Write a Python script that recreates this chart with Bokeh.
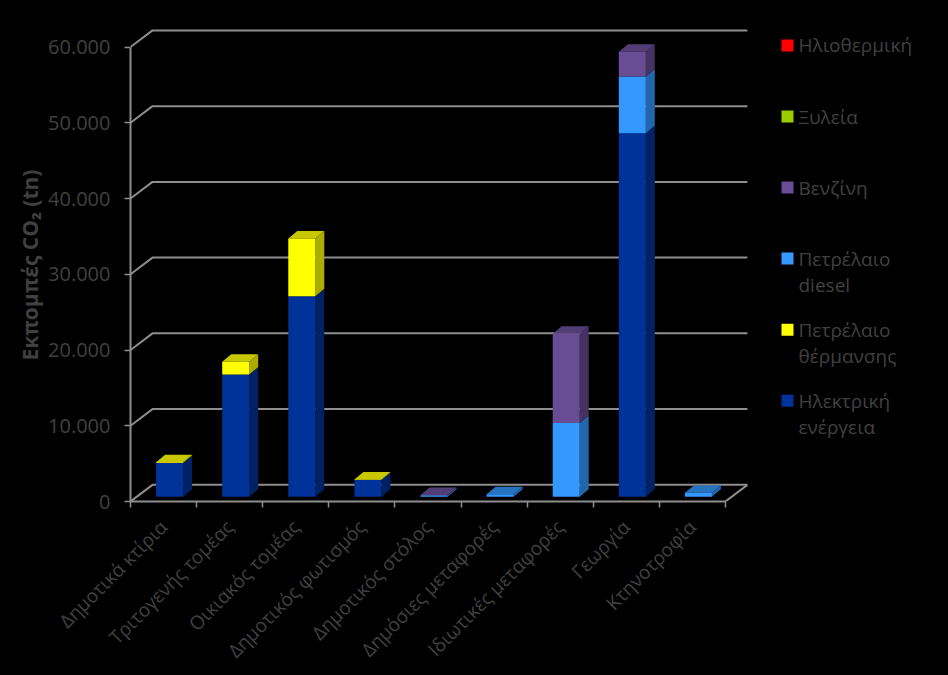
import math
from bokeh.plotting import figure
from bokeh.embed import file_html
from bokeh.resources import INLINE
from bokeh.core.properties import value
from bokeh.models import Range1d, FixedTicker, ColumnDataSource

categories = ["Δημοτικά κτίρια", "Τριτογενής τομέας", "Οικιακός τομέας", "Δημοτικός φωτισμός",
              "Δημοτικός στόλος", "Δημόσιες μεταφορές", "Ιδιωτικές μεταφορές", "Γεωργία", "Κτηνοτροφία"]
electricity = [4450, 16160, 26480, 2230, 0, 0, 0, 48000, 0]
heating_oil = [120, 1670, 7640, 50, 0, 0, 0, 0, 0]
diesel = [0, 0, 0, 0, 200, 350, 9750, 7500, 520]
petrol = [0, 0, 0, 0, 30, 0, 11790, 3260, 0]
wood = [0, 0, 0, 0, 0, 0, 0, 0, 0]
solar = [0, 0, 0, 0, 0, 0, 0, 0, 0]
y_ticks = [0, 10000, 20000, 30000, 40000, 50000, 60000]
y_tick_labels = ["0", "10.000", "20.000", "30.000", "40.000", "50.000", "60.000"]

series = [
    ("Ηλεκτρική\nενέργεια", electricity, "#003399", "#002164", "#002A80"),
    ("Πετρέλαιο\nθέρμανσης", heating_oil, "#FFFF00", "#ABAB00", "#C8C800"),
    ("Πετρέλαιο\ndiesel", diesel, "#3399FF", "#2266AB", "#2673BF"),
    ("Βενζίνη", petrol, "#684C94", "#453263", "#533D76"),
    ("Ξυλεία", wood, "#99CC00", "#668800", "#7AA300"),
    ("Ηλιοθερμική", solar, "#FF0000", "#AA0000", "#CC0000"),
]

PX_X = 66.1      # pixels per category
PX_Y = 75.9 / 10000  # pixels per unit of CO2
FRAME_L, FRAME_B, FRAME_T = 130, 502, 28
WALL_DX, WALL_DY = 22 / PX_X, 16.7 / PX_Y
BAR_DX, BAR_DY = 9 / PX_X, 7.5 / PX_Y
BAR_W = 27 / PX_X
BAR_SHIFT_X, BAR_BASE = 6.05 / PX_X, 4.7 / PX_Y
TEXT = "#404040"
LINE = "#8E8E8E"
FONT = "Open Sans"


def page_x(px):
    return (px - FRAME_L) / PX_X


def page_y(py):
    return (FRAME_B - py) / PX_Y


p = figure(width=948, height=675, output_backend="svg", toolbar_location=None,
           x_range=Range1d(0, (948 - FRAME_L) / PX_X), y_range=Range1d(0, (FRAME_B - FRAME_T) / PX_Y),
           min_border_left=FRAME_L, min_border_right=0, min_border_top=FRAME_T,
           min_border_bottom=675 - FRAME_B,
           background_fill_color="black", border_fill_color="black", outline_line_color=None)
p.grid.visible = False

# 3D wall lines
n = len(categories)
xs, ys = [], []
for t in y_ticks:
    xs.append([0, WALL_DX, n + WALL_DX])
    ys.append([t, t + WALL_DY, t + WALL_DY])
xs.append([n + WALL_DX, n])
ys.append([WALL_DY, 0])
p.multi_line(xs, ys, line_color=LINE, line_width=2)

# Bars
totals = [0.0] * n
for k, (name, vals, front, side, top) in enumerate(series):
    lefts, rights, bottoms, tops = [], [], [], []
    sx, sy, tx, ty = [], [], [], []
    for i, v in enumerate(vals):
        x0 = i + 0.5 + BAR_SHIFT_X - BAR_W / 2
        x1 = x0 + BAR_W
        b = BAR_BASE + totals[i]
        t = b + v
        lefts.append(x0); rights.append(x1); bottoms.append(b); tops.append(t)
        if v > 0:
            sx.append([x1, x1 + BAR_DX, x1 + BAR_DX, x1])
            sy.append([b, b + BAR_DY, t + BAR_DY, t])
            if sum(s[1][i] for s in series[k + 1:]) == 0:
                tx.append([x0, x1, x1 + BAR_DX, x0 + BAR_DX])
                ty.append([t, t, t + BAR_DY, t + BAR_DY])
        totals[i] += v
    if sx:
        p.patches(sx, sy, fill_color=side, line_color=None)
    if tx:
        p.patches(tx, ty, fill_color=top, line_color=None)
    src = ColumnDataSource(dict(left=lefts, right=rights, bottom=bottoms, top=tops))
    p.quad(left="left", right="right", bottom="bottom", top="top", source=src,
           fill_color=front, line_color=None)

# Axes
yax = p.yaxis[0]
yax.ticker = FixedTicker(ticks=y_ticks)
yax.major_label_overrides = {t: l for t, l in zip(y_ticks, y_tick_labels)}
yax.bounds = (0, 60000)
yax.axis_line_color = LINE
yax.axis_line_width = 2
yax.major_tick_line_color = LINE
yax.major_tick_line_width = 1.5
yax.major_tick_in = 0
yax.major_tick_out = 6
yax.minor_tick_line_color = None
yax.major_label_standoff = 14
yax.major_label_text_color = TEXT
yax.major_label_text_font = FONT
yax.major_label_text_font_size = "20px"
yax.axis_label = "Εκπομπές CO₂ (tn)"
yax.axis_label_text_color = TEXT
yax.axis_label_text_font = FONT
yax.axis_label_text_font_style = "bold"
yax.axis_label_text_font_size = "21px"
yax.axis_label_standoff = 1

xax = p.xaxis[0]
centers = [i + 0.5 for i in range(n)]
xax.ticker = FixedTicker(ticks=centers, minor_ticks=list(range(n + 1)))
xax.major_label_overrides = {c: l for c, l in zip(centers, categories)}
xax.bounds = (0, n)
xax.axis_line_color = LINE
xax.axis_line_width = 2
xax.major_tick_line_color = None
xax.minor_tick_line_color = LINE
xax.minor_tick_line_width = 1.5
xax.minor_tick_in = 0
xax.minor_tick_out = 6
xax.major_label_orientation = math.pi / 4
xax.major_label_standoff = 16
xax.major_label_text_color = TEXT
xax.major_label_text_font = FONT
xax.major_label_text_font_size = "19px"

# Legend key: top entry first, first text line level with its square
LEG_TOP, LEG_STEP = 45, 71.2
rows = series[::-1]
row_py = [LEG_TOP + i * LEG_STEP for i in range(len(rows))]
p.scatter([page_x(787)] * len(rows), [page_y(y) for y in row_py], marker="square", size=12,
          fill_color=[s[2] for s in rows], line_color=None)
p.text([page_x(798)] * len(rows), [page_y(y - 13) for y in row_py], text=[s[0] for s in rows],
       text_color=TEXT, text_font=value(FONT), text_font_size="19px", text_baseline="top",
       text_align="left", text_line_height=1.0)

html = file_html(p, INLINE).replace("</head>", "<style>html,body{background:#000;margin:0;overflow:hidden}</style></head>")
open("out.html", "w", encoding="utf-8").write(html)
